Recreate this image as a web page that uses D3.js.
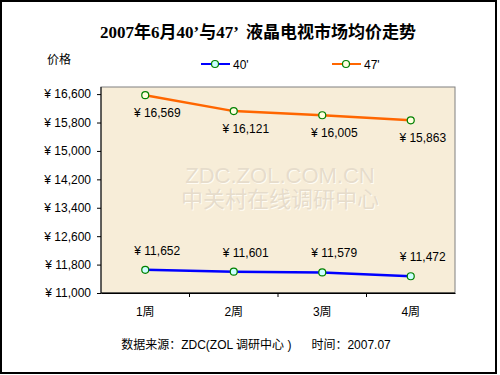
<!DOCTYPE html>
<html>
<head>
<meta charset="utf-8">
<script src="https://cdn.jsdelivr.net/npm/d3@7"></script>
<style>
  body { margin: 0; background: #fff; }
  text { font-family: "Liberation Sans", Arial, "Noto Sans CJK SC", sans-serif; }
</style>
</head>
<body>
<div data-output></div>
<script>
const SIZE = { WIDTH: 500, HEIGHT: 375 };

const weeks = ['1周', '2周', '3周', '4周'];
const price40 = [11652, 11601, 11579, 11472];
const price47 = [16569, 16121, 16005, 15863];
const yTicks = [11000, 11800, 12600, 13400, 14200, 15000, 15800, 16600];
const seriesNames = ["40'", "47'"];

const title = '2007年6月40’与47’  液晶电视市场均价走势';
const yTitle = '价格';
const source = '数据来源：ZDC(ZOL 调研中心 )      时间：2007.07';

// plot area
const margin = { top: 87, right: 45, bottom: 82, left: 101 };
const width = SIZE.WIDTH - margin.left - margin.right;
const height = SIZE.HEIGHT - margin.top - margin.bottom;

const fmt = d3.format(',');
const yen = v => '¥ ' + fmt(v);

const x = d3.scaleBand().domain(weeks).range([0, width]);
const y = d3.scaleLinear().domain([11000, 16800]).range([height, 0]);
const cx = d => x(d) + x.bandwidth() / 2;

const root = d3.select('[data-output]').append('svg')
  .attr('width', SIZE.WIDTH)
  .attr('height', SIZE.HEIGHT);

// outer frame
root.append('rect')
  .attr('x', 1).attr('y', 1)
  .attr('width', 495).attr('height', 372)
  .attr('fill', '#fff')
  .attr('stroke', '#000')
  .attr('stroke-width', 2);

root.append('text')
  .attr('x', 258).attr('y', 38)
  .attr('text-anchor', 'middle')
  .style('white-space', 'pre')
  .style('font-family', '"Liberation Serif", "Noto Sans CJK SC", serif')
  .style('font-size', '17px')
  .style('font-weight', 'bold')
  .text(title);

root.append('text')
  .attr('x', 47).attr('y', 64)
  .style('font-size', '12px')
  .style('font-family', '"Noto Sans CJK SC", sans-serif')
  .text(yTitle);

// legend
const legendColors = ['#0000ff', '#ff6600'];
const legendFills = ['#ccffff', '#ffffe0'];
const legend = root.selectAll('g.legend')
  .data(seriesNames)
  .enter().append('g')
  .attr('class', 'legend')
  .attr('transform', (d, i) => `translate(${201 + i * 131}, 64)`);
legend.append('line')
  .attr('x1', 0).attr('x2', 29)
  .attr('stroke', (d, i) => legendColors[i])
  .attr('stroke-width', 2);
legend.append('circle')
  .attr('cx', 14).attr('r', 3.5)
  .attr('fill', (d, i) => legendFills[i])
  .attr('stroke', '#008000')
  .attr('stroke-width', 1.2);
legend.append('text')
  .attr('x', 32).attr('y', 4.5)
  .style('font-size', '12px')
  .text(d => d);

const svg = root.append('g')
  .attr('transform', `translate(${margin.left}, ${margin.top})`);

// plot background
svg.append('rect')
  .attr('width', width).attr('height', height)
  .attr('fill', '#f7edd8')
  .attr('stroke', '#808080');

// watermark
const wm = svg.append('g')
  .attr('transform', `translate(${width / 2 + 2}, 0)`)
  .attr('text-anchor', 'middle')
  .style('font-size', '22px');
[['ZDC.ZOL.COM.CN', 96], ['中关村在线调研中心', 120]].forEach(([t, yy]) => {
  wm.append('text').attr('y', yy + 1).attr('x', 1).attr('fill', '#fffcf4').text(t);
  wm.append('text').attr('y', yy).attr('fill', '#e6dccb').text(t);
});

// axes
svg.append('g')
  .attr('transform', `translate(0, ${height})`)
  .call(d3.axisBottom(x).tickSize(0).tickPadding(14))
  .call(g => g.select('.domain').attr('stroke', '#000'))
  .call(g => g.selectAll('text')
    .style('font-size', '12px')
    .style('font-family', '"Liberation Sans", "Noto Sans CJK SC", sans-serif'));

svg.append('g')
  .attr('transform', `translate(0, ${height})`)
  .selectAll('line')
  .data(weeks.slice(1))
  .enter().append('line')
  .attr('x1', d => x(d)).attr('x2', d => x(d))
  .attr('y1', 0).attr('y2', 4)
  .attr('stroke', '#000');

svg.append('g')
  .call(d3.axisLeft(y).tickValues(yTicks).tickFormat(yen).tickSize(4).tickPadding(6).tickSizeOuter(0))
  .call(g => g.select('.domain').attr('stroke', '#000').attr('d', `M0,0V${height}`))
  .call(g => g.selectAll('text').style('font-size', '12px'));

svg.append('line')
  .attr('x1', 0).attr('x2', width)
  .attr('y1', height).attr('y2', height)
  .attr('stroke', '#000');

// series
const series = [
  { name: seriesNames[0], values: price40, color: legendColors[0], fill: legendFills[0], above: true },
  { name: seriesNames[1], values: price47, color: legendColors[1], fill: legendFills[1], above: false }
];

const line = d3.line()
  .x((d, i) => cx(weeks[i]))
  .y(d => y(d));

series.forEach(s => {
  const g = svg.append('g');
  g.append('path')
    .datum(s.values)
    .attr('d', line)
    .attr('fill', 'none')
    .attr('stroke', s.color)
    .attr('stroke-width', 2.5);
  g.selectAll('circle')
    .data(s.values)
    .enter().append('circle')
    .attr('cx', (d, i) => cx(weeks[i]))
    .attr('cy', d => y(d))
    .attr('r', 3.5)
    .attr('fill', s.fill)
    .attr('stroke', '#008000')
    .attr('stroke-width', 1.2);
  g.selectAll('text')
    .data(s.values)
    .enter().append('text')
    .attr('x', (d, i) => cx(weeks[i]) + 12)
    .attr('y', d => y(d) + (s.above ? -15 : 22))
    .attr('text-anchor', 'middle')
    .style('font-size', '12px')
    .text(yen);
});

root.append('text')
  .attr('x', 256).attr('y', 349)
  .attr('text-anchor', 'middle')
  .style('white-space', 'pre')
  .style('font-size', '12px')
  .style('font-family', '"Liberation Sans", "Noto Sans CJK SC", sans-serif')
  .text(source);
</script>
</body>
</html>
